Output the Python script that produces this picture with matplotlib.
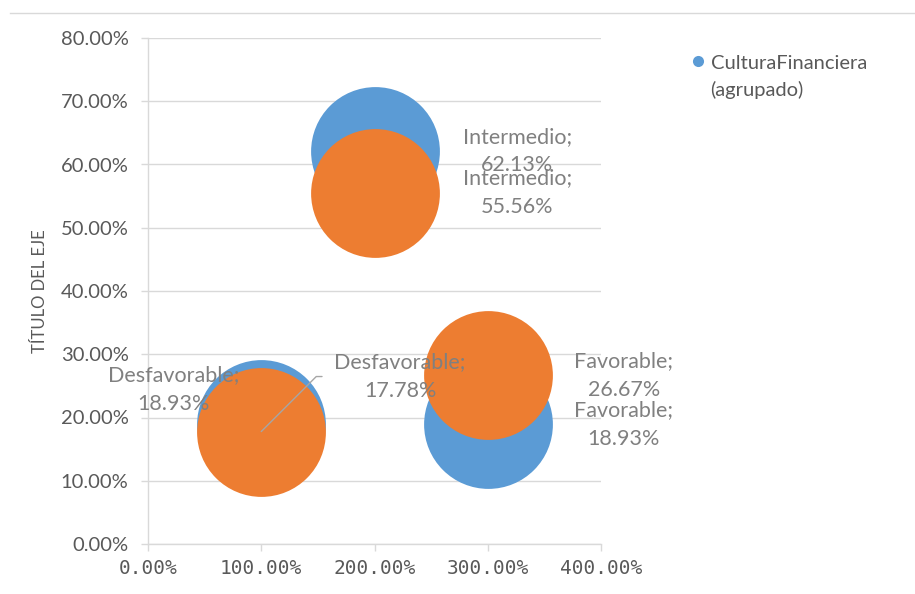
#!/usr/bin/env python3
"""
Bubble chart: CulturaFinanciera (agrupado)
"""

import matplotlib
matplotlib.use('Agg')
import matplotlib.pyplot as plt
from matplotlib.lines import Line2D
from matplotlib.ticker import FuncFormatter, MultipleLocator

# Data
categories = ['Desfavorable', 'Intermedio', 'Favorable']
x_values = [1.0, 2.0, 3.0]
blue_values = [0.1893, 0.6213, 0.1893]
orange_values = [0.1778, 0.5556, 0.2667]
series_name = 'CulturaFinanciera\n(agrupado)'

BLUE = '#5B9BD5'
ORANGE = '#ED7D31'
GRID = '#D9D9D9'
TICK_TEXT = '#595959'
LABEL_TEXT = '#808080'
FONT = 'Lato'

# label offsets in pixels (dx, dy) from bubble center to label center
blue_offsets = [(-88, 35), (143, 0), (136, 0)]
orange_offsets = [(139, 55), (143, 0), (136, 0)]

fig = plt.figure(figsize=(9.15, 5.94), dpi=100)
ax = fig.add_axes([148 / 915, 1 - 544 / 594, 453 / 915, 506 / 594])

bubble_s = 8600  # marker area in points^2 (all bubbles same size)
ax.scatter(x_values, blue_values, s=bubble_s, color=BLUE, zorder=3, linewidths=0)
ax.scatter(x_values, orange_values, s=bubble_s, color=ORANGE, zorder=4, linewidths=0)

ax.set_xlim(0, 4)
ax.set_ylim(0, 0.8)
ax.xaxis.set_major_locator(MultipleLocator(1))
ax.yaxis.set_major_locator(MultipleLocator(0.1))
pct = FuncFormatter(lambda v, _: f'{v * 100:.2f}%')
ax.xaxis.set_major_formatter(pct)
ax.yaxis.set_major_formatter(pct)

ax.grid(True, axis='y', color=GRID, linewidth=1)
ax.set_axisbelow(True)
for side in ('top', 'right'):
    ax.spines[side].set_visible(False)
for side in ('left', 'bottom'):
    ax.spines[side].set_color(GRID)
    ax.spines[side].set_linewidth(1)

ax.tick_params(axis='both', color=GRID, length=5, width=1)
ax.tick_params(axis='y', labelsize=14.5, labelcolor=TICK_TEXT, pad=9)
ax.tick_params(axis='x', labelsize=14, labelcolor=TICK_TEXT, pad=6)
for lab in ax.get_yticklabels():
    lab.set_fontfamily(FONT)
for lab in ax.get_xticklabels():
    lab.set_fontfamily('DejaVu Sans Mono')

ax.set_ylabel('TÍTULO DEL EJE', fontsize=12, color=TICK_TEXT, fontfamily=FONT, labelpad=9)

# data labels
label_kw = dict(textcoords='offset pixels', ha='center', va='center', fontsize=15.5,
                color=LABEL_TEXT, fontfamily=FONT, linespacing=1.55, zorder=6)
for cat, x, y, (dx, dy) in zip(categories, x_values, blue_values, blue_offsets):
    ax.annotate(f'{cat};\n{y * 100:.2f}%', xy=(x, y), xytext=(dx, dy), **label_kw)
for i, (cat, x, y, (dx, dy)) in enumerate(zip(categories, x_values, orange_values, orange_offsets)):
    extra = {}
    if i == 0:
        # leader line like Excel's moved label
        extra['arrowprops'] = dict(arrowstyle='-', color='#A6A6A6', lw=1,
                                   relpos=(0, 0.5), shrinkA=7, shrinkB=0,
                                   connectionstyle='angle,angleA=0,angleB=45,rad=0')
    ax.annotate(f'{cat};\n{y * 100:.2f}%', xy=(x, y), xytext=(dx, dy), **label_kw, **extra)

# legend (only the first series is named in the reference)
handle = Line2D([], [], marker='o', linestyle='none', markersize=8,
                markerfacecolor=BLUE, markeredgewidth=0)
first, second = series_name.split('\n')
leg = fig.legend([handle], [first], loc='center left', bbox_to_anchor=(691 / 915, 1 - 63 / 594),
                 frameon=False, borderpad=0, borderaxespad=0, handlelength=0.7,
                 handletextpad=0.3, prop={'family': FONT, 'size': 14.5})
for t in leg.get_texts():
    t.set_color(TICK_TEXT)
fig.text(710 / 915, 1 - 90 / 594, second, ha='left', va='center', fontsize=14.5,
         color=TICK_TEXT, fontfamily=FONT)

# chart frame line at top
fig.add_artist(Line2D([10 / 915, 1.0], [1 - 13 / 594, 1 - 13 / 594], color=GRID, linewidth=1))

fig.savefig('out.png', dpi=100)
print('Figure saved to: out.png')
